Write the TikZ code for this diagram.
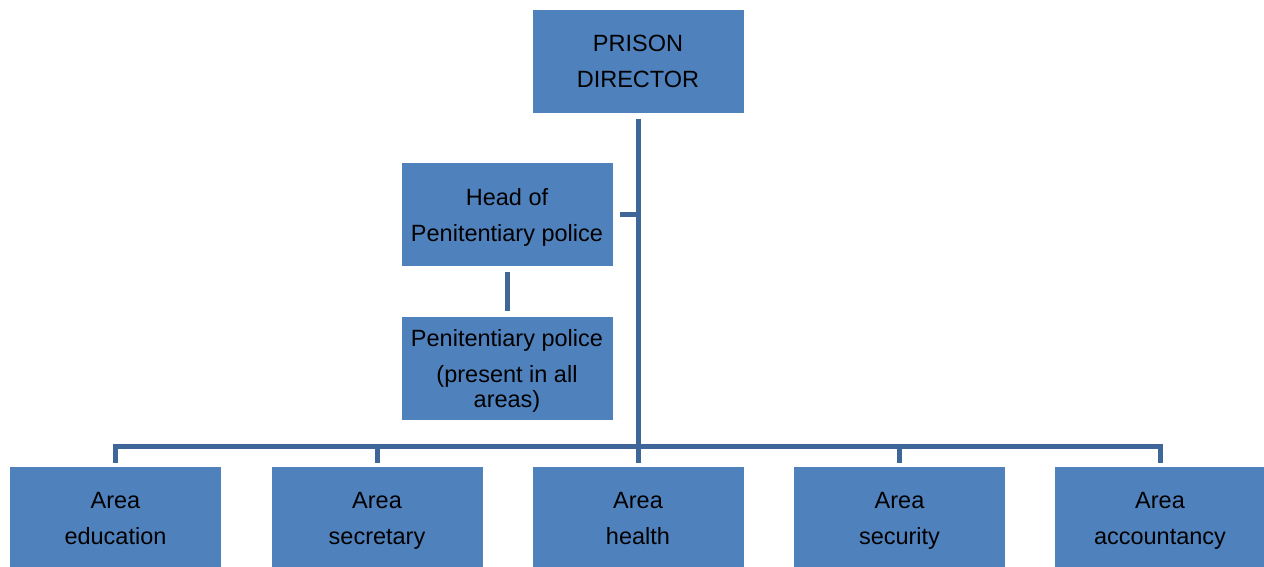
\documentclass[tikz,border=0pt]{standalone}
\usepackage{fontspec}
\setmainfont{Liberation Sans}
\definecolor{boxblue}{HTML}{4F81BD}
\definecolor{lineblue}{HTML}{3F6699}

\begin{document}
\begin{tikzpicture}
         [x=1pt,y=-1pt,every node/.style={rectangle,fill=boxblue,minimum width=211pt,minimum height=103pt,align=center,font=\fontsize{23.5}{36}\selectfont,inner sep=0pt,text depth=-3pt},
          link/.style={draw=lineblue,line width=5pt}]
         \useasboundingbox (0,0) rectangle (1264,567);
         \node (nDirector) at (638,61.5) {PRISON\\DIRECTOR};
         \node (nHead) at (507,214.5) {Head of\\Penitentiary police};
         \node (nPolice) at (507,368.5) {Penitentiary police\\(present in all\\[-11pt]areas)};
         \node (nEducation) at (115.5,518.5) {Area\\education};
         \node (nSecretary) at (377,518.5) {Area\\secretary};
         \node (nHealth) at (638,518.5) {Area\\health};
         \node (nSecurity) at (899.5,518.5) {Area\\security};
         \node (nAccountancy) at (1160,518.5) {Area\\accountancy};
         \coordinate (cBar) at (638,446);

         \draw[link,shorten <=6pt,shorten >=4pt] (nDirector) -- (nHealth);
         \draw[link,shorten <=7pt] (nHead.east) -- (nHead.east -| nDirector.south);
         \draw[link,shorten <=6pt,shorten >=6pt] (nHead) -- (nPolice);
         \foreach \to in {nEducation,nSecretary,nSecurity,nAccountancy}
             \draw[link,shorten <=4pt] (\to.north) |- (cBar);

     \end{tikzpicture}
\end{document}
